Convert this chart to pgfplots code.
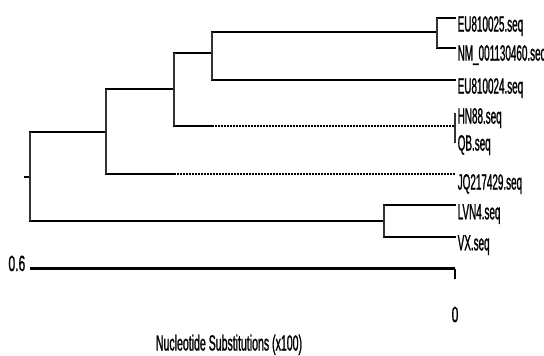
\documentclass[border=0pt]{standalone}
\usepackage{pgfplots}
\pgfplotsset{compat=1.18}
\usepackage{fontspec}
\setmainfont{Liberation Sans}
\newfontfamily\labf[FakeStretch=0.45,FakeBold=1]{Liberation Sans}
\newfontfamily\ttlf[FakeStretch=0.48,FakeBold=1]{Liberation Sans}
\newfontfamily\numf[FakeStretch=0.55,FakeBold=1]{Liberation Sans}
\tikzset{leaf/.style={anchor=north west, inner sep=0pt, xshift=2.5pt, yshift=2pt, font=\fontsize{22}{26}\labf}}
\begin{document}
\begin{tikzpicture}
\begin{axis}[
  scale only axis, width=544pt, height=356pt,
  x dir=reverse, y dir=reverse,
  xmin=-0.1256, xmax=0.6424, ymin=0, ymax=356,
  axis line style={draw=none}, xtick=\empty, ytick=\empty,
  clip=false, unbounded coords=jump,
]
% solid horizontal branches
\addplot[black, line width=2pt, line cap=rect] coordinates {
(0.6071,176.5) (0.6,176.5) (nan,nan)
(0.6,132) (0.4927,132) (nan,nan)
(0.6,221) (0.1002,221) (nan,nan)
(0.4927,89) (0.3967,89) (nan,nan)
(0.4927,174) (0.3967,174) (nan,nan)
(0.3967,53) (0.3431,53) (nan,nan)
(0.3967,126) (0.3431,126) (nan,nan)
(0.3431,32) (0.0254,32) (nan,nan)
(0.3431,80) (0,80) (nan,nan)
(0.0254,18) (0,18) (nan,nan)
(0.0254,48) (0,48) (nan,nan)
(0.1002,205) (0,205) (nan,nan)
(0.1002,237) (0,237)
};
% dotted horizontal branches
\addplot[black, line width=1.8pt, dash pattern=on 1.8pt off 1.2pt] coordinates {
(0.3967,174) (0,174) (nan,nan)
(0.3431,126) (0,126)
};
% vertical connectors
\addplot[black!80, line width=1.4pt] coordinates {
(0.6,132) (0.6,221) (nan,nan)
(0.4927,89) (0.4927,174) (nan,nan)
(0.3967,53) (0.3967,126) (nan,nan)
(0.3431,32) (0.3431,80) (nan,nan)
(0.0254,18) (0.0254,48) (nan,nan)
(0.1002,205) (0.1002,237) (nan,nan)
(0,113) (0,143)
};
% scale bar
\addplot[black, line width=2.6pt] coordinates {(0.6,268.5) (0,268.5)};
\addplot[black, line width=1.2pt] coordinates {(0,268.5) (0,279)};
% leaf labels
\node[leaf] at (axis cs:0,18) {EU810025.seq};
\node[leaf] at (axis cs:0,47) {NM\_001130460.seq};
\node[leaf] at (axis cs:0,80) {EU810024.seq};
\node[leaf] at (axis cs:0,110) {HN88.seq};
\node[leaf] at (axis cs:0,137) {QB.seq};
\node[leaf] at (axis cs:0,176) {JQ217429.seq};
\node[leaf] at (axis cs:0,206) {LVN4.seq};
\node[leaf] at (axis cs:0,237) {VX.seq};
% scale texts
\node[anchor=base east, inner sep=0pt, font=\fontsize{22}{26}\numf] at (axis cs:0.6064,271) {0.6};
\node[anchor=base, inner sep=0pt, font=\fontsize{22}{26}\numf] at (axis cs:0,322) {0};
\node[anchor=base, inner sep=0pt, font=\fontsize{22}{26}\ttlf] at (axis cs:0.3191,350.5) {Nucleotide Substitutions (x100)};
\end{axis}
\pgfresetboundingbox
\path (0,0) rectangle (544pt,356pt);
\end{tikzpicture}
\end{document}
